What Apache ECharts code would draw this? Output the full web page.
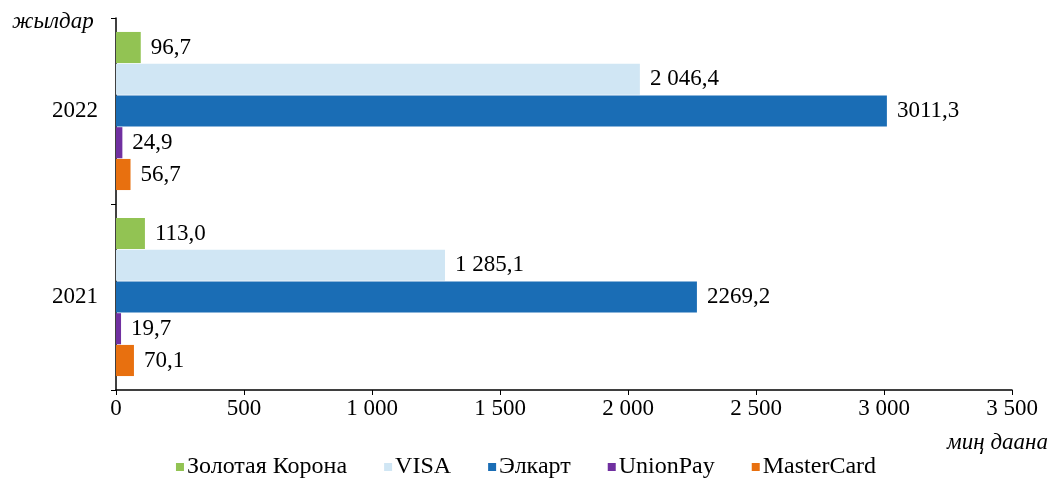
<!DOCTYPE html>
<html>
<head>
<meta charset="utf-8">
<script src="https://cdn.jsdelivr.net/npm/echarts@6/dist/echarts.min.js"></script>
<style>
  html, body { margin: 0; padding: 0; background: #fff; }
  #chart { width: 1052px; height: 479px; }
</style>
</head>
<body>
<div id="chart"></div>
<script>
var years = ['2021', '2022'];
var seriesNames = ['Золотая Корона', 'VISA', 'Элкарт', 'UnionPay', 'MasterCard'];
var seriesColors = ['#92c353', '#d0e6f4', '#1a6db5', '#7030a0', '#e8700f'];
// values per series: [2021, 2022]
var zolotayaKorona = [113.0, 96.7];
var visa = [1285.1, 2046.4];
var elkart = [2269.2, 3011.3];
var unionPay = [19.7, 24.9];
var masterCard = [70.1, 56.7];
// labels as printed on the chart
var zolotayaKoronaLabels = ['113,0', '96,7'];
var visaLabels = ['1 285,1', '2 046,4'];
var elkartLabels = ['2269,2', '3011,3'];
var unionPayLabels = ['19,7', '24,9'];
var masterCardLabels = ['70,1', '56,7'];

var allValues = [zolotayaKorona, visa, elkart, unionPay, masterCard];
var allLabels = [zolotayaKoronaLabels, visaLabels, elkartLabels, unionPayLabels, masterCardLabels];
var font = '"Liberation Serif", "Times New Roman", serif';

var fmtTick = function (v) {
    return String(v).replace(/\B(?=(\d{3})+(?!\d))/g, ' ');
};

var series = seriesNames.map(function (name, i) {
    return {
        name: name,
        type: 'bar',
        barCategoryGap: '15%',
        barGap: '2%',
        itemStyle: { color: seriesColors[i] },
        label: {
            show: true,
            position: 'right',
            distance: 10,
            color: '#000',
            fontFamily: font,
            fontSize: 23,
            formatter: function (p) { return allLabels[i][p.dataIndex]; }
        },
        data: allValues[i]
    };
});

var myChart = echarts.init(document.getElementById('chart'));
myChart.setOption({
    animation: false,
    backgroundColor: '#fff',
    textStyle: { fontFamily: font },
    grid: { left: 116, right: 40, top: 18, bottom: 89 },
    graphic: [
        { type: 'text', left: 12, top: 10, style: { text: 'жылдар', font: 'italic 23px ' + font, fill: '#000' } },
        { type: 'text', right: 4, top: 431, style: { text: 'миң даана', font: 'italic 23px ' + font, fill: '#000' } }
    ],
    legend: {
        top: 455,
        left: 'center',
        padding: 0,
        itemWidth: 8,
        itemHeight: 8,
        itemGap: 37,
        icon: 'rect',
        textStyle: { fontFamily: font, fontSize: 24, color: '#000', padding: [0, 0, 0, -2] },
        data: seriesNames
    },
    xAxis: {
        type: 'value',
        min: 0,
        max: 3500,
        interval: 500,
        axisLine: { show: true, lineStyle: { color: '#000', width: 1.5 } },
        axisTick: { show: true, length: 5, lineStyle: { color: '#000' } },
        splitLine: { show: false },
        axisLabel: { color: '#000', fontSize: 23, fontFamily: font, margin: 7, formatter: fmtTick }
    },
    yAxis: {
        type: 'category',
        data: years,
        axisLine: { lineStyle: { color: '#000', width: 1.5 } },
        axisTick: { show: true, length: 5, lineStyle: { color: '#000' } },
        axisLabel: { color: '#000', fontSize: 23, fontFamily: font, margin: 18 }
    },
    series: series
});
</script>
</body>
</html>
